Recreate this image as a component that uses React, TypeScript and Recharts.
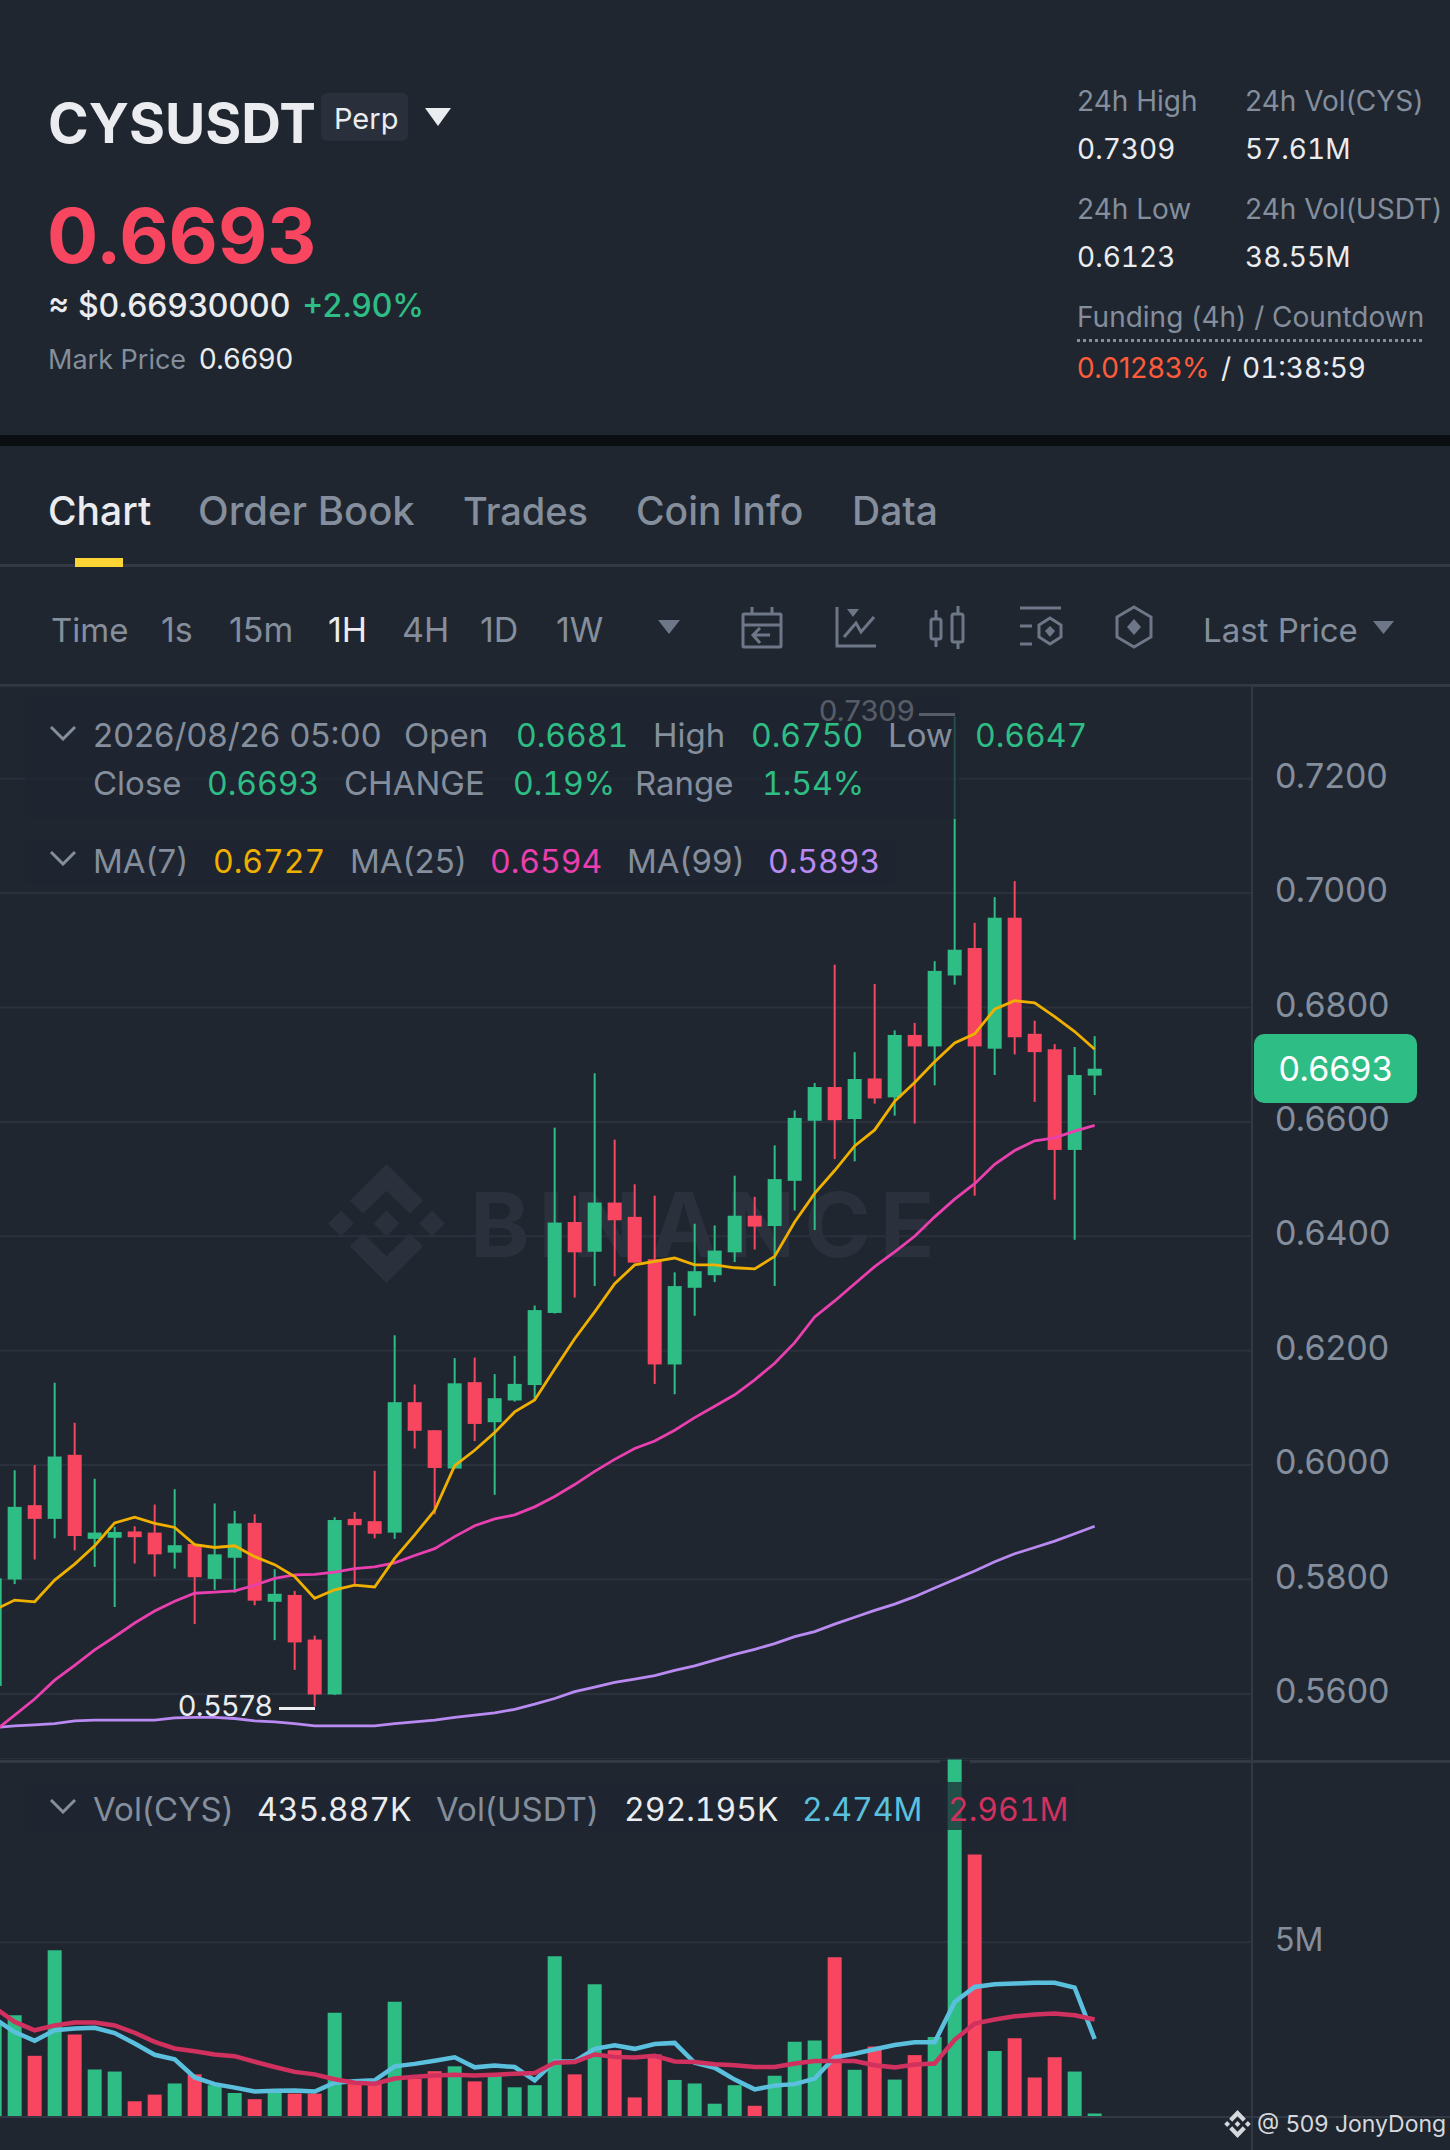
import { ComposedChart, Bar, Line, Cell, XAxis, YAxis, CartesianGrid } from 'recharts';

const openPrice = [
  0.5614, 0.58, 0.593, 0.5906, 0.6018, 0.5871, 0.5873, 0.5884, 0.5882, 0.5847, 0.5862, 0.5801, 0.5838, 0.5899,
  0.5761, 0.5773, 0.5695, 0.5599, 0.5906, 0.5902, 0.5882, 0.611, 0.6061, 0.5994, 0.6145, 0.6075, 0.6113, 0.614,
  0.6266, 0.6425, 0.6373, 0.6459, 0.6434, 0.636, 0.6176, 0.631, 0.6332, 0.6372, 0.6436, 0.6418, 0.6497, 0.6602,
  0.6661, 0.6605, 0.6676, 0.6643, 0.6752, 0.6732, 0.6856, 0.6904, 0.6728, 0.6957, 0.6754, 0.6727, 0.6551, 0.6681,
];
const closePrice = [
  0.5802, 0.5927, 0.5906, 0.6015, 0.5876, 0.5882, 0.5883, 0.5874, 0.5844, 0.586, 0.5804, 0.5844, 0.5898, 0.5763,
  0.5775, 0.569, 0.5599, 0.5904, 0.5895, 0.588, 0.611, 0.606, 0.5995, 0.6143, 0.6072, 0.6117, 0.6142, 0.6271,
  0.6424, 0.6372, 0.6459, 0.6428, 0.6354, 0.6176, 0.6313, 0.6339, 0.6375, 0.6436, 0.6417, 0.65, 0.6607, 0.6661,
  0.6603, 0.6675, 0.6641, 0.6752, 0.6732, 0.6864, 0.6901, 0.6732, 0.6957, 0.6748, 0.6722, 0.6551, 0.6682, 0.6693,
];
const highPrice = [
  0.583, 0.5991, 0.6, 0.6144, 0.6074, 0.5976, 0.5892, 0.5893, 0.5931, 0.5958, 0.5863, 0.5933, 0.592, 0.5914,
  0.5818, 0.578, 0.5702, 0.5909, 0.5918, 0.599, 0.6227, 0.6141, 0.6061, 0.6187, 0.6188, 0.6159, 0.6191, 0.6279,
  0.659, 0.6471, 0.6685, 0.6569, 0.6491, 0.6471, 0.6337, 0.6422, 0.6419, 0.6506, 0.6469, 0.6559, 0.662, 0.6668,
  0.6875, 0.6722, 0.6841, 0.676, 0.6773, 0.6881, 0.7309, 0.6948, 0.6993, 0.7021, 0.6777, 0.6736, 0.6731, 0.675,
];
const lowPrice = [
  0.56, 0.5792, 0.5835, 0.5872, 0.5851, 0.5822, 0.5752, 0.5828, 0.5805, 0.5819, 0.5722, 0.5782, 0.5777, 0.5755,
  0.5694, 0.5642, 0.5578, 0.5598, 0.579, 0.5872, 0.5871, 0.6029, 0.5914, 0.5994, 0.6042, 0.5948, 0.6111, 0.6114,
  0.6265, 0.6293, 0.6313, 0.633, 0.6354, 0.6142, 0.6124, 0.6261, 0.632, 0.6355, 0.6377, 0.6313, 0.6445, 0.6411,
  0.6535, 0.6531, 0.6632, 0.6611, 0.6597, 0.6664, 0.684, 0.6471, 0.6682, 0.6718, 0.6635, 0.6464, 0.6394, 0.6647,
];
const ma7 = [
  0.5747, 0.5764, 0.5761, 0.5799, 0.5827, 0.5859, 0.5899, 0.5909, 0.5898, 0.5891, 0.5861, 0.5856, 0.5859, 0.584,
  0.5826, 0.5805, 0.5767, 0.5782, 0.579, 0.5787, 0.5837, 0.5878, 0.5921, 0.5999, 0.6026, 0.6057, 0.6093, 0.6114,
  0.6168, 0.6221, 0.6268, 0.6317, 0.635, 0.6356, 0.6362, 0.635, 0.635, 0.6345, 0.6343, 0.6365, 0.6425, 0.6475,
  0.6515, 0.6558, 0.6586, 0.6636, 0.6669, 0.6705, 0.6738, 0.6754, 0.6797, 0.6812, 0.6808, 0.6784, 0.6758, 0.6727,
];
const ma25 = [
  0.5535, 0.5563, 0.5591, 0.5624, 0.565, 0.5677, 0.57, 0.5724, 0.5745, 0.5762, 0.5776, 0.5778, 0.578, 0.579,
  0.5802, 0.5808, 0.5809, 0.5813, 0.5819, 0.5822, 0.5829, 0.5842, 0.5854, 0.5875, 0.5894, 0.5906, 0.5913, 0.5927,
  0.5945, 0.5966, 0.5989, 0.601, 0.6029, 0.6042, 0.6061, 0.6083, 0.6103, 0.6123, 0.6149, 0.6178, 0.6214, 0.6259,
  0.6287, 0.6317, 0.6347, 0.6373, 0.64, 0.6434, 0.6465, 0.6492, 0.6526, 0.655, 0.6567, 0.6572, 0.6584, 0.6594,
];
const ma99 = [
  0.5541, 0.5544, 0.5546, 0.5548, 0.5553, 0.5554, 0.5554, 0.5554, 0.5554, 0.5558, 0.5559, 0.5559, 0.5557, 0.5553,
  0.5551, 0.5548, 0.5544, 0.5544, 0.5544, 0.5544, 0.5548, 0.5551, 0.5554, 0.5559, 0.5563, 0.5567, 0.5573, 0.5582,
  0.5592, 0.5604, 0.5612, 0.562, 0.5626, 0.5632, 0.5641, 0.5649, 0.5659, 0.5669, 0.5678, 0.5688, 0.57, 0.5709,
  0.5722, 0.5734, 0.5746, 0.5757, 0.577, 0.5785, 0.58, 0.5815, 0.5831, 0.5845, 0.5856, 0.5867, 0.588, 0.5893,
];
// volume in millions
const volume = [
  2.67, 2.91, 1.75, 4.77, 2.36, 1.36, 1.3, 0.45, 0.64, 0.96, 1.22, 0.91, 0.69, 0.51, 0.69, 0.67, 0.67, 2.98, 1.0,
  0.95, 3.3, 1.1, 1.31, 1.45, 1.02, 1.19, 0.85, 0.91, 4.6, 1.22, 3.8, 1.91, 0.56, 1.79, 1.06, 0.96, 0.38, 0.91,
  0.32, 1.18, 2.15, 2.19, 4.57, 1.35, 2.02, 1.07, 1.77, 2.29, 10.23, 7.51, 1.89, 2.25, 1.13, 1.71, 1.3, 0.1,
];
const volMaBlue = [
  2.81, 2.43, 2.18, 2.48, 2.53, 2.55, 2.4, 2.1, 1.78, 1.65, 1.13, 0.94, 0.84, 0.73, 0.75, 0.76, 0.73, 0.98, 1.02,
  1.05, 1.45, 1.52, 1.61, 1.71, 1.42, 1.47, 1.43, 1.05, 1.59, 1.59, 1.95, 2.05, 1.95, 2.09, 2.12, 1.55, 1.41, 1.07,
  0.79, 0.9, 0.94, 1.1, 1.71, 1.81, 1.94, 2.06, 2.14, 2.14, 3.29, 3.72, 3.8, 3.82, 3.84, 3.84, 3.7, 2.23,
];
const volMaRed = [
  3.13, 2.72, 2.48, 2.62, 2.7, 2.7, 2.62, 2.41, 2.15, 1.96, 1.88, 1.79, 1.74, 1.58, 1.43, 1.29, 1.22, 1.08, 0.98,
  0.95, 1.1, 1.15, 1.19, 1.21, 1.19, 1.21, 1.24, 1.26, 1.55, 1.57, 1.79, 1.72, 1.7, 1.75, 1.59, 1.57, 1.51, 1.48,
  1.43, 1.43, 1.53, 1.6, 1.6, 1.6, 1.48, 1.42, 1.5, 1.53, 2.21, 2.67, 2.79, 2.88, 2.93, 2.96, 2.91, 2.79,
];
const priceTicks = [0.56, 0.58, 0.6, 0.62, 0.64, 0.66, 0.68, 0.7, 0.72];
const volTicks = [5];
const timeTicks = [8, 20, 32, 44, 56];

const candles = openPrice.map((o, i) => ({
  slot: i - 1,
  open: o,
  close: closePrice[i],
  high: highPrice[i],
  low: lowPrice[i],
  ma7: ma7[i],
  ma25: ma25[i],
  ma99: ma99[i],
  volume: volume[i],
  volMaBlue: volMaBlue[i],
  volMaRed: volMaRed[i],
}));

const BG = '#1F2630';
const UP = '#2EBD85';
const DOWN = '#F84660';
const GREY = '#848E9C';
const WHITE = '#EAECEF';
const PANE = '#323945';
const GRID = '#2A313C';
const FONT = 'Inter, "Noto Sans", sans-serif';

function Candle(props: any) {
  const { x, y, width, height, payload } = props;
  const h = Math.abs(height);
  const perUnit = h / (payload.high - payload.low);
  const top = y + (payload.high - Math.max(payload.open, payload.close)) * perUnit;
  const bodyH = Math.abs(payload.open - payload.close) * perUnit;
  const color = payload.close >= payload.open ? UP : DOWN;
  return (
    <g>
      <rect x={x + width / 2 - 1} y={y} width={2} height={h} fill={color} />
      <rect x={x} y={top} width={width} height={Math.max(bodyH, 1)} fill={color} />
    </g>
  );
}

function T({ x, y, size = 33, color = GREY, weight = 400, num = false, children }: any) {
  // y is the text's baseline
  return (
    <div
      style={{
        position: 'absolute',
        left: x,
        top: y - size,
        height: size * 1.25,
        lineHeight: `${size * 1.25}px`,
        fontSize: num && size === 33 ? 32 : size,
        color,
        fontWeight: weight,
        whiteSpace: 'nowrap',
        fontVariantNumeric: num ? 'tabular-nums' : 'normal',
      }}
    >
      {children}
    </div>
  );
}

function Box({ x, y, w, h, color, radius = 0 }: any) {
  return <div style={{ position: 'absolute', left: x, top: y, width: w, height: h, background: color, borderRadius: radius }} />;
}

function Tri({ x, y, w, h, color }: any) {
  return (
    <svg style={{ position: 'absolute', left: x, top: y }} width={w} height={h}>
      <polygon points={`0,0 ${w},0 ${w / 2},${h}`} fill={color} />
    </svg>
  );
}

function Chevron({ x, y }: any) {
  return (
    <svg style={{ position: 'absolute', left: x, top: y }} width={28} height={16}>
      <polyline points="2,2 14,14 26,2" fill="none" stroke={GREY} strokeWidth={3} />
    </svg>
  );
}

function Logo({ x, y, w, h, color }: any) {
  return (
    <svg style={{ position: 'absolute', left: x, top: y }} width={w} height={h} viewBox="-60 -60 120 120" preserveAspectRatio="none">
      <g fill={color}>
        <polygon points="0,-60 37,-23 23.5,-10 0,-33 -23.5,-10 -37,-23" />
        <polygon points="0,60 37,23 23.5,10 0,33 -23.5,10 -37,23" />
        <polygon points="0,-13 13,0 0,13 -13,0" />
        <polygon points="-46,-13 -33,0 -46,13 -59,0" />
        <polygon points="46,-13 59,0 46,13 33,0" />
      </g>
    </svg>
  );
}

function Icon({ x, y, w, h, children }: any) {
  return (
    <svg style={{ position: 'absolute', left: x, top: y }} width={w} height={h} viewBox={`0 0 ${w} ${h}`} fill="none" stroke="#6E7787" strokeWidth={3}>
      {children}
    </svg>
  );
}

export default function App() {
  return (
    <div style={{ position: 'absolute', left: 0, top: 0, width: 1450, height: 2150, background: BG, overflow: 'hidden', fontFamily: FONT }}>
      {/* ticker header */}
      <T x={48} y={144} size={55} color={WHITE} weight={700}>CYSUSDT</T>
      <Box x={321} y={93} w={87} h={48} color="#2A303B" radius={6} />
      <T x={334} y={130} size={29} color={WHITE}>Perp</T>
      <Tri x={425} y={108} w={26} h={18} color={WHITE} />
      <T x={47} y={264} size={76} color={DOWN} weight={700}>0.6693</T>
      <T x={48} y={318} size={32} color={WHITE} weight={500}>≈ $0.66930000</T>
      <T x={302} y={318} size={32} color={UP} weight={500}>+2.90%</T>
      <T x={48} y={370} size={27}>Mark Price</T>
      <T x={199} y={370} size={28} color={WHITE}>0.6690</T>
      <T x={1077} y={112} size={28}>24h High</T>
      <T x={1245} y={112} size={28}>24h Vol(CYS)</T>
      <T x={1077} y={160} size={28} color={WHITE} num>0.7309</T>
      <T x={1245} y={160} size={28} color={WHITE} num>57.61M</T>
      <T x={1077} y={220} size={28}>24h Low</T>
      <T x={1245} y={220} size={28}>24h Vol(USDT)</T>
      <T x={1077} y={268} size={28} color={WHITE} num>0.6123</T>
      <T x={1245} y={268} size={28} color={WHITE} num>38.55M</T>
      <T x={1077} y={328} size={28}>Funding (4h) / Countdown</T>
      <div style={{ position: 'absolute', left: 1077, top: 339, width: 345, borderTop: `3px dotted ${GREY}` }} />
      <T x={1077} y={379} size={28} color="#FF5B3A">0.01283%</T>
      <T x={1221} y={379} size={28} color={WHITE}>/</T>
      <T x={1242} y={379} size={28} color={WHITE} num>01:38:59</T>
      <Box x={0} y={435} w={1450} h={11} color="#0B0E11" />

      {/* tabs */}
      <T x={48} y={526} size={39} color={WHITE} weight={500}>Chart</T>
      <T x={198} y={526} size={40} weight={500}>Order Book</T>
      <T x={463} y={526} size={38} weight={500}>Trades</T>
      <T x={636} y={526} size={39} weight={500}>Coin Info</T>
      <T x={852} y={526} size={39} weight={500}>Data</T>
      <Box x={0} y={564} w={1450} h={3} color={PANE} />
      <Box x={75} y={558} w={48} h={9} color="#FCD535" />

      {/* toolbar */}
      <T x={51} y={643} size={33}>Time</T>
      <T x={161} y={643} size={34}>1s</T>
      <T x={229} y={643} size={34}>15m</T>
      <T x={328} y={643} size={34} color={WHITE}>1H</T>
      <T x={402} y={643} size={34}>4H</T>
      <T x={480} y={643} size={34}>1D</T>
      <T x={556} y={643} size={34}>1W</T>
      <Tri x={658} y={620} w={22} h={14} color="#6E7787" />
      <Icon x={740} y={605} w={44} h={44}>
        <rect x={3} y={9} width={38} height={33} rx={1} />
        <path d="M3 20H41M12 2V9M32 2V9M30 30H14M20 23L13 30L20 38" />
      </Icon>
      <Icon x={834} y={605} w={44} h={44}>
        <path d="M3 2V41H42M10 32L22 18L27 27L40 12" />
        <polygon points="13,4 25,4 19,12" fill="#6E7787" stroke="none" />
      </Icon>
      <Icon x={928} y={605} w={40} h={44}>
        <rect x={3} y={14} width={10} height={20} rx={2} />
        <rect x={24} y={9} width={11} height={28} rx={2} />
        <path d="M8 5V14M8 34V42M30 1V9M30 37V44" />
      </Icon>
      <Icon x={1019} y={604} w={44} h={46}>
        <path d="M1 4H42M1 22H13M1 40H13M31 14L42 21V33L31 40L20 33V21Z" />
        <polygon points="31,22 36,27 31,33 26,27" fill="#6E7787" stroke="none" />
      </Icon>
      <Icon x={1115} y={605} w={38} h={44}>
        <path d="M19 2L36 12V32L19 42L2 32V12Z" />
        <polygon points="19,14 26,22 19,30 12,22" fill="#6E7787" stroke="none" />
      </Icon>
      <T x={1203} y={643} size={33}>Last Price</T>
      <Tri x={1373} y={621} w={21} h={13} color="#6E7787" />
      <Box x={0} y={684} w={1450} h={3} color={PANE} />

      {/* watermark sits under the charts */}
      <Logo x={327} y={1164} w={119} h={119} color="#2B313C" />
      <div style={{ position: 'absolute', left: 470, top: 1170, height: 110, lineHeight: '110px', fontSize: 90, fontWeight: 700, letterSpacing: 9, color: '#2B313C' }}>BINANCE</div>

      {/* price pane */}
      <div style={{ position: 'absolute', left: -20, top: 686 }}>
        <ComposedChart width={1470} height={1075} data={candles} margin={{ top: 0, right: 0, bottom: 0, left: 0 }}>
          <CartesianGrid stroke={GRID} strokeWidth={2} />
          <XAxis dataKey="slot" type="number" domain={[-1.7335, 61.8665]} ticks={timeTicks} height={0} tick={false} axisLine={false} tickLine={false} allowDataOverflow />
          <YAxis
            orientation="right"
            width={198}
            domain={[0.54827, 0.73621]}
            ticks={priceTicks}
            tickFormatter={(v: number) => v.toFixed(4)}
            tick={{ fill: GREY, fontSize: 34, dy: -3 }}
            tickLine={false}
            axisLine={false}
            tickMargin={17}
          />
          <Bar dataKey={(d: any) => [d.low, d.high]} barSize={14} shape={Candle} isAnimationActive={false} />
          <Line dataKey="ma99" stroke="#B98AF2" strokeWidth={2.8} dot={false} isAnimationActive={false} />
          <Line dataKey="ma25" stroke="#EA3FAF" strokeWidth={2.8} dot={false} isAnimationActive={false} />
          <Line dataKey="ma7" stroke="#F0B000" strokeWidth={2.8} dot={false} isAnimationActive={false} />
        </ComposedChart>
      </div>

      {/* volume pane */}
      <div style={{ position: 'absolute', left: -20, top: 1758 }}>
        <ComposedChart width={1470} height={359} data={candles} margin={{ top: 0, right: 0, bottom: 0, left: 0 }}>
          <CartesianGrid stroke={GRID} strokeWidth={2} />
          <XAxis dataKey="slot" type="number" domain={[-1.7335, 61.8665]} ticks={timeTicks} height={0} tick={false} axisLine={false} tickLine={false} allowDataOverflow />
          <YAxis
            orientation="right"
            width={198}
            domain={[0, 10.27]}
            ticks={volTicks}
            tickFormatter={(v: number) => `${v}M`}
            tick={{ fill: GREY, fontSize: 32, dy: -3 }}
            tickLine={false}
            axisLine={false}
            tickMargin={17}
          />
          <Bar dataKey="volume" barSize={14} isAnimationActive={false}>
            {candles.map((c) => (
              <Cell key={c.slot} fill={c.close >= c.open ? UP : DOWN} />
            ))}
          </Bar>
          <Line dataKey="volMaBlue" stroke="#5BC0DE" strokeWidth={4.5} dot={false} isAnimationActive={false} />
          <Line dataKey="volMaRed" stroke="#D1315F" strokeWidth={4.5} dot={false} isAnimationActive={false} />
        </ComposedChart>
      </div>

      {/* pane rules */}
      <Box x={0} y={1760} w={940} h={3} color={PANE} />
      <Box x={970} y={1760} w={480} h={3} color={PANE} />
      <Box x={0} y={2116} w={1450} h={2} color={PANE} />
      <Box x={1251} y={686} w={2} h={1464} color={PANE} />

      {/* extreme labels */}
      <T x={178} y={1717} size={29} color={WHITE}>0.5578</T>
      <Box x={279} y={1707} w={36} h={3} color={WHITE} />
      <T x={819} y={722} size={29} color={WHITE}>0.7309</T>
      <Box x={919} y={713} w={36} h={3} color={WHITE} />

      {/* legend plates dim whatever runs under them */}
      <div style={{ position: 'absolute', left: 25, top: 698, width: 934, height: 121, background: 'rgba(31,38,48,0.72)' }} />
      <div style={{ position: 'absolute', left: 25, top: 838, width: 870, height: 46, background: 'rgba(31,38,48,0.72)' }} />
      <div style={{ position: 'absolute', left: 25, top: 1782, width: 1050, height: 48, background: 'rgba(31,38,48,0.72)' }} />

      <Chevron x={49} y={725} />
      <T x={93} y={748}>2026/08/26 05:00</T>
      <T x={404} y={748}>Open</T>
      <T x={516} y={748} color={UP} num>0.6681</T>
      <T x={653} y={748}>High</T>
      <T x={751} y={748} color={UP} num>0.6750</T>
      <T x={888} y={748}>Low</T>
      <T x={975} y={748} color={UP} num>0.6647</T>
      <T x={93} y={796}>Close</T>
      <T x={207} y={796} color={UP} num>0.6693</T>
      <T x={344} y={796}>CHANGE</T>
      <T x={513} y={796} color={UP} num>0.19%</T>
      <T x={635} y={796}>Range</T>
      <T x={762} y={796} color={UP} num>1.54%</T>
      <Chevron x={49} y={850} />
      <T x={93} y={874}>MA(7)</T>
      <T x={213} y={874} color="#F0B000" num>0.6727</T>
      <T x={350} y={874}>MA(25)</T>
      <T x={490} y={874} color="#EA3FAF" num>0.6594</T>
      <T x={627} y={874}>MA(99)</T>
      <T x={768} y={874} color="#B98AF2" num>0.5893</T>

      <Box x={1254} y={1034} w={163} h={69} color={UP} radius={10} />
      <div style={{ position: 'absolute', left: 1254, top: 1034, width: 163, height: 69, lineHeight: '69px', textAlign: 'center', fontSize: 34, color: '#FFFFFF' }}>0.6693</div>

      <Chevron x={49} y={1798} />
      <T x={93} y={1822}>Vol(CYS)</T>
      <T x={257} y={1822} color={WHITE} num>435.887K</T>
      <T x={436} y={1822}>Vol(USDT)</T>
      <T x={624} y={1822} color={WHITE} num>292.195K</T>
      <T x={802} y={1822} color="#5BC0DE" num>2.474M</T>
      <T x={948} y={1822} color="#D1315F" num>2.961M</T>

      <Logo x={1224} y={2110} w={27} h={28} color="#D5D8DC" />
      <T x={1257} y={2133} size={23} color="#D5D8DC">@ 509 JonyDong</T>
    </div>
  );
}
